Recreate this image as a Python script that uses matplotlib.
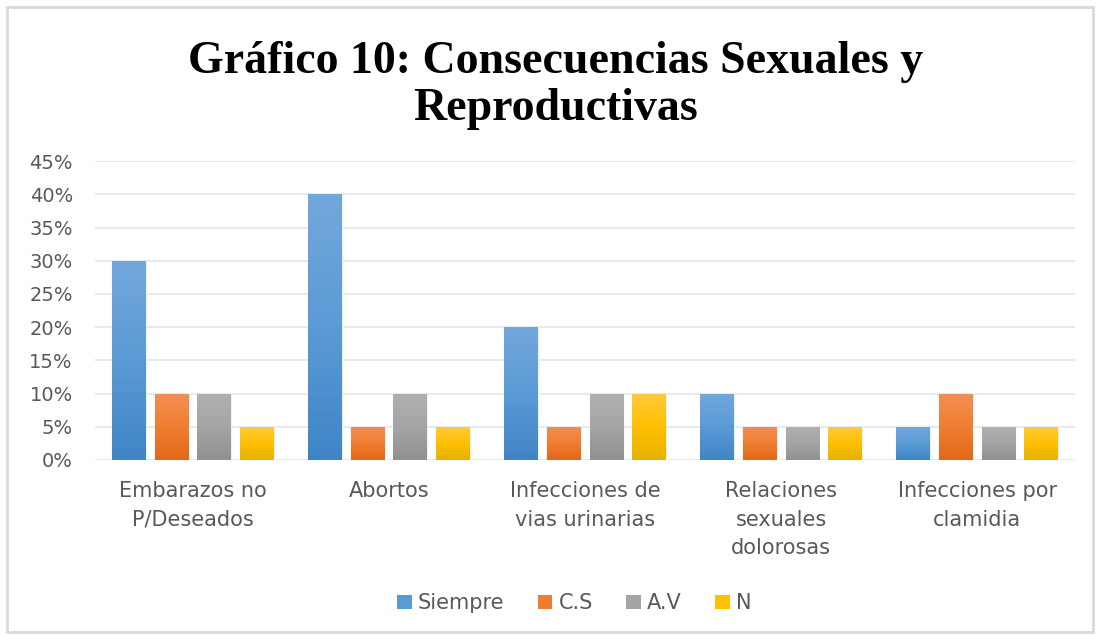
import numpy as np
import matplotlib
matplotlib.use("Agg")
import matplotlib.pyplot as plt
from matplotlib.colors import LinearSegmentedColormap
from matplotlib.patches import Rectangle, Patch
from matplotlib.ticker import FuncFormatter

categories = ["Embarazos no\nP/Deseados", "Abortos", "Infecciones de\nvias urinarias",
              "Relaciones\nsexuales\ndolorosas", "Infecciones por\nclamidia"]
series_names = ["Siempre", "C.S", "A.V", "N"]
siempre = [30, 40, 20, 10, 5]
cs = [10, 5, 5, 5, 10]
av = [10, 10, 10, 5, 5]
n = [5, 5, 10, 5, 5]
series = [siempre, cs, av, n]

# gradient stops (top, middle, bottom) per series, Excel-ish
GRAD = [
    ["#72a7dc", "#5b9bd5", "#3f85c6"],
    ["#f28f55", "#f07e30", "#e26818"],
    ["#b0b0b0", "#a5a5a5", "#909090"],
    ["#ffc93d", "#ffc000", "#e5b200"],
]
SOLID = ["#5b9bd5", "#ed7d31", "#a5a5a5", "#ffc000"]
TXT = "#595959"
GRID = "#e3e6ea"

fig = plt.figure(figsize=(11, 6.37), dpi=100)
fig.patch.set_facecolor("white")
fig.add_artist(Rectangle((7 / 1100, 5 / 637), 1086 / 1100, 625 / 637,
                         transform=fig.transFigure, fill=False,
                         edgecolor="#d5dae0", lw=2))

ax = fig.add_axes([0.0864, 0.278, 0.891, 0.469])
x = np.arange(len(categories))
pitch, width = 0.217, 0.172
offsets = (np.arange(4) - 1.5) * pitch

for i, vals in enumerate(series):
    cmap = LinearSegmentedColormap.from_list(f"g{i}", GRAD[i][::-1])
    grad = np.linspace(0, 1, 64).reshape(-1, 1)
    bars = ax.bar(x + offsets[i], vals, width, color=SOLID[i],
                  edgecolor="#eef2f6", linewidth=1.0, zorder=3)
    for b in bars:
        x0, y0 = b.get_x(), b.get_y()
        im = ax.imshow(grad, cmap=cmap, origin="lower", aspect="auto",
                       extent=[x0, x0 + b.get_width(), y0, y0 + b.get_height()],
                       zorder=3.5)
        im.set_clip_path(b)

ax.set_xlim(-0.5, len(categories) - 0.5)
ax.set_ylim(0, 45)
ax.set_yticks(np.arange(0, 46, 5))
ax.yaxis.set_major_formatter(FuncFormatter(lambda v, _: f"{v:.0f}%"))
ax.set_xticks(x)
ax.set_xticklabels(categories, fontsize=15, color=TXT, linespacing=1.55,
                   va="top")
ax.tick_params(axis="y", labelsize=14, labelcolor=TXT, length=0, pad=16)
ax.tick_params(axis="x", length=0, pad=15)
ax.grid(axis="y", color=GRID, lw=1.2, zorder=0)
ax.set_axisbelow(True)
for s in ax.spines.values():
    s.set_visible(False)

fig.text(0.505, 0.866, "Gráfico 10: Consecuencias Sexuales y\nReproductivas",
         ha="center", va="center", fontsize=33, fontweight="bold",
         family="Liberation Serif", linespacing=1.15, color="black")

handles = [Patch(facecolor=SOLID[i], edgecolor="none") for i in range(4)]
fig.legend(handles, series_names, loc="center", bbox_to_anchor=(0.522, 0.053),
           ncol=4, frameon=False, fontsize=15, handlelength=0.7,
           handleheight=0.7, handletextpad=0.3, columnspacing=1.6,
           labelcolor=TXT)

fig.savefig("out.png", dpi=100, facecolor="white")
